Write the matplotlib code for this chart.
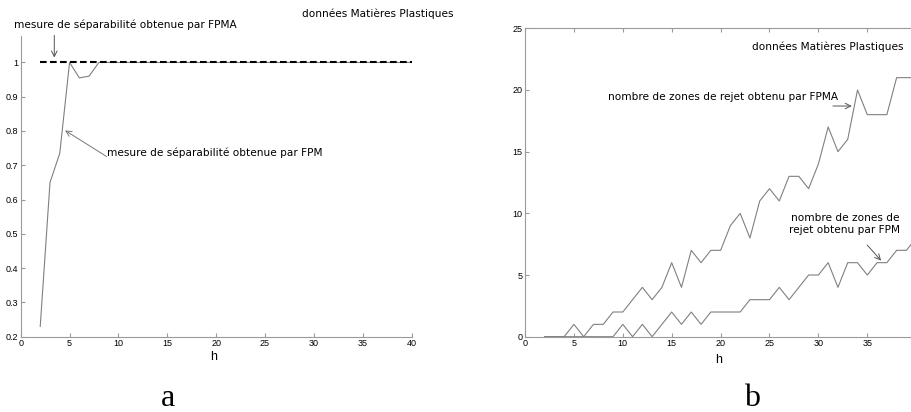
import matplotlib
matplotlib.use('Agg')
import matplotlib.pyplot as plt

# --- data ---
h_a = [2, 3, 4, 5, 6, 7, 8, 9, 10, 11, 12, 13, 14, 15, 16, 17, 18, 19, 20, 21,
       22, 23, 24, 25, 26, 27, 28, 29, 30, 31, 32, 33, 34, 35, 36, 37, 38, 39, 40]
sep_fpm = [0.23, 0.65, 0.735, 1.0, 0.955, 0.96, 1.0, 1.0, 1.0, 1.0, 1.0, 1.0, 1.0,
           1.0, 1.0, 1.0, 1.0, 1.0, 1.0, 1.0, 1.0, 1.0, 1.0, 1.0, 1.0, 1.0, 1.0,
           1.0, 1.0, 1.0, 1.0, 1.0, 1.0, 1.0, 1.0, 1.0, 1.0, 1.0, 1.0]
sep_fpma = [1.0, 1.0, 1.0, 1.0, 1.0, 1.0, 1.0, 1.0, 1.0, 1.0, 1.0, 1.0, 1.0,
            1.0, 1.0, 1.0, 1.0, 1.0, 1.0, 1.0, 1.0, 1.0, 1.0, 1.0, 1.0, 1.0,
            1.0, 1.0, 1.0, 1.0, 1.0, 1.0, 1.0, 1.0, 1.0, 1.0, 1.0, 1.0, 1.0]

h_b = [2, 3, 4, 5, 6, 7, 8, 9, 10, 11, 12, 13, 14, 15, 16, 17, 18, 19, 20, 21,
       22, 23, 24, 25, 26, 27, 28, 29, 30, 31, 32, 33, 34, 35, 36, 37, 38, 39, 40]
rej_fpma = [0, 0, 0, 1, 0, 1, 1, 2, 2, 3, 4, 3, 4, 6, 4, 7, 6, 7, 7, 9,
            10, 8, 11, 12, 11, 13, 13, 12, 14, 17, 15, 16, 20, 18, 18, 18, 21, 21, 21]
rej_fpm = [0, 0, 0, 0, 0, 0, 0, 0, 1, 0, 1, 0, 1, 2, 1, 2, 1, 2, 2, 2,
           2, 3, 3, 3, 4, 3, 4, 5, 5, 6, 4, 6, 6, 5, 6, 6, 7, 7, 8]

yticks_a = [0.2, 0.3, 0.4, 0.5, 0.6, 0.7, 0.8, 0.9, 1.0]
yticklabels_a = ['0.2', '0.3', '0.4', '0.5', '0.6', '0.7', '0.8', '0.9', '1']
xticks_a = [0, 5, 10, 15, 20, 25, 30, 35, 40]
xticks_b = [0, 5, 10, 15, 20, 25, 30, 35]   # 40 falls off the cropped edge
yticks_b = [0, 5, 10, 15, 20, 25]

LINE = '#808080'
SPINE = '#9a9a9a'
TXT = 'DejaVu Sans'
TICKFONT = 'Liberation Sans'
FS = 7.6

fig = plt.figure(figsize=(9.11, 4.12), dpi=100)
fig.patch.set_facecolor('white')


def style_axes(ax):
    ax.tick_params(direction='in', length=3, width=0.8, color=SPINE,
                   labelsize=6.5, pad=2)
    for lab in ax.get_xticklabels() + ax.get_yticklabels():
        lab.set_fontfamily(TICKFONT)
    for sp in ax.spines.values():
        sp.set_color(SPINE)
        sp.set_linewidth(0.8)


# ---------------- panel a ----------------
ax1 = fig.add_axes([0.0227, 0.1828, 0.4292, 0.7289])
ax1.plot(h_a, sep_fpm, color=LINE, lw=0.8)
ax1.plot(h_a, sep_fpma, color='black', lw=1.5, linestyle=(0, (3.2, 1.6)))
ax1.set_xlim(0, 40)
ax1.set_ylim(0.2, 1.076)
ax1.set_xticks(xticks_a)
ax1.set_yticks(yticks_a)
ax1.set_yticklabels(yticklabels_a)
ax1.spines['top'].set_visible(False)
ax1.spines['right'].set_visible(False)
style_axes(ax1)

ax1.annotate('', xy=(3.44, 1.006), xytext=(3.44, 1.087),
             arrowprops=dict(arrowstyle='->', color='#555555', lw=0.7),
             annotation_clip=False)
ax1.text(-0.69, 1.110, 'mesure de séparabilité obtenue par FPMA',
         fontsize=FS, family=TXT, ha='left', va='center', clip_on=False)
ax1.annotate('', xy=(4.3, 0.806), xytext=(9.04, 0.721),
             arrowprops=dict(arrowstyle='->', color='#777777', lw=0.7))
ax1.text(8.8, 0.737, 'mesure de séparabilité obtenue par FPM',
         fontsize=FS, family=TXT, ha='left', va='center')
ax1.text(0.494, -0.067, 'h', transform=ax1.transAxes, fontsize=9,
         family=TICKFONT, ha='center', va='center')

fig.text(302 / 911, 1 - 14 / 412, 'données Matières Plastiques',
         fontsize=FS, family=TXT, ha='left', va='center')

# ---------------- panel b ----------------
ax2 = fig.add_axes([0.5763, 0.1828, 0.4294, 0.7485])
ax2.plot(h_b, rej_fpma, color=LINE, lw=0.8)
ax2.plot(h_b, rej_fpm, color=LINE, lw=0.8)
ax2.set_xlim(0, 40)
ax2.set_ylim(0, 25)
ax2.set_xticks(xticks_b)
ax2.set_yticks(yticks_b)
ax2.tick_params(top=True, right=True)
style_axes(ax2)

ax2.text(23.2, 23.5, 'données Matières Plastiques',
         fontsize=FS, family=TXT, ha='left', va='center')
ax2.text(8.5, 19.44, 'nombre de zones de rejet obtenu par FPMA',
         fontsize=FS, family=TXT, ha='left', va='center')
ax2.annotate('', xy=(33.7, 18.7), xytext=(31.2, 18.7),
             arrowprops=dict(arrowstyle='->', color='#555555', lw=0.7))
ax2.text(32.7, 9.14, 'nombre de zones de\nrejet obtenu par FPM',
         fontsize=FS, family=TXT, ha='center', va='center',
         multialignment='center', linespacing=1.3)
ax2.annotate('', xy=(36.6, 6.0), xytext=(34.8, 7.6),
             arrowprops=dict(arrowstyle='->', color='#555555', lw=0.7))
ax2.text(0.496, -0.0756, 'h', transform=ax2.transAxes, fontsize=9,
         family=TICKFONT, ha='center', va='center')

# panel letters
fig.text(168 / 911, 1 - 406.5 / 412, 'a', fontsize=23, family='Liberation Serif',
         ha='center', va='baseline')
fig.text(752 / 911, 1 - 406.5 / 412, 'b', fontsize=23, family='Liberation Serif',
         ha='center', va='baseline')

fig.savefig('out.png', dpi=100, facecolor='white')
